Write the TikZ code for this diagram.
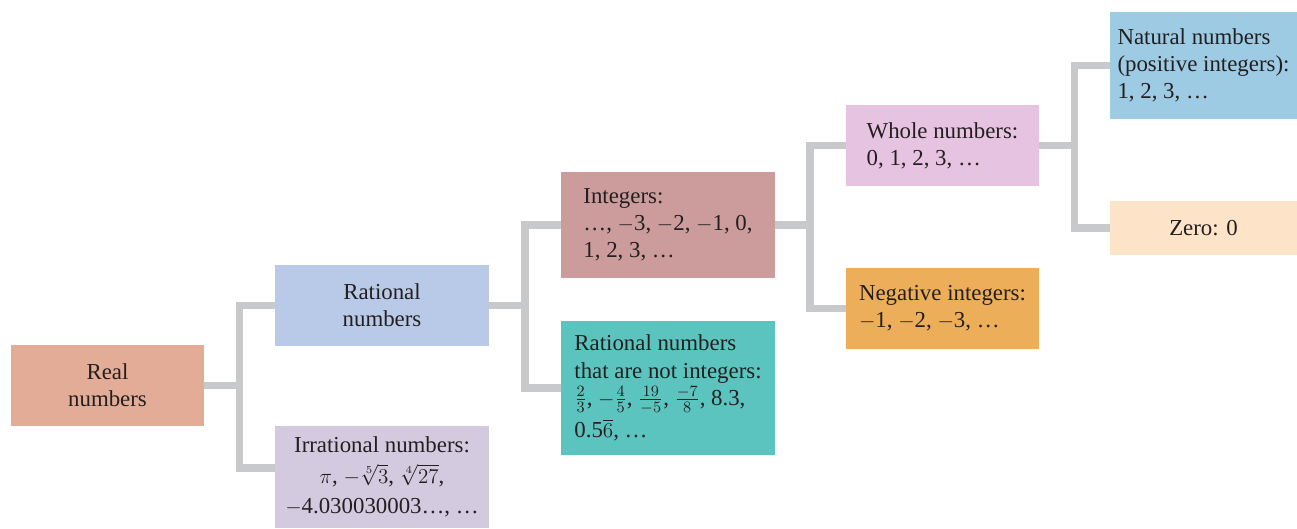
\documentclass[tikz,border=0pt]{standalone}
\usepackage{amsmath}
\usepackage{fontspec}
\setmainfont{Liberation Serif}
\usepackage{tikz}
\usetikzlibrary{calc}

\definecolor{inkdark}{HTML}{231F20}
\definecolor{linkgray}{HTML}{C8C9CA}
\definecolor{realfill}{HTML}{E3AC97}
\definecolor{ratfill}{HTML}{B9C9E8}
\definecolor{irrfill}{HTML}{D3CADF}
\definecolor{intfill}{HTML}{CC9C9C}
\definecolor{nonintfill}{HTML}{5BC4BF}
\definecolor{wholefill}{HTML}{E6C3E0}
\definecolor{negfill}{HTML}{EDAE5A}
\definecolor{natfill}{HTML}{9DCBE3}
\definecolor{zerofill}{HTML}{FDE3C8}
\newcommand{\mns}{$-$}

\begin{document}
\begin{tikzpicture}[line join=miter,
  box/.style={rectangle, inner sep=0pt, text=inkdark,
    font=\fontsize{13}{15.4}\selectfont},
  link/.style={draw=linkgray, line width=4.5pt}]
  \useasboundingbox (0,0) rectangle (25.94,10.56);
  % branch points
  \coordinate (T1) at (4.79,2.85);
  \coordinate (T2) at (10.50,4.45);
  \coordinate (T3) at (16.20,6.06);
  \coordinate (T4) at (21.49,7.65);
  % boxes
  \node[box,fill=realfill,minimum width=3.86cm,minimum height=1.62cm,align=center] (real) at (2.15,2.85) {Real\\numbers};
  \node[box,fill=ratfill,minimum width=4.28cm,minimum height=1.62cm,align=center] (rat) at (7.64,4.45) {Rational\\numbers};
  \node[box,fill=irrfill,minimum width=4.28cm,minimum height=2.04cm,align=center] (irr) at (7.64,1.02) {Irrational numbers:\\[2pt]$\pi$, $-\sqrt[5]{3}$, $\sqrt[4]{27}$,\\[2pt]\mns4.030030003…, …};
  \node[box,fill=intfill,minimum width=4.28cm,minimum height=2.12cm,align=left] (int) at (13.36,6.06) {Integers:\\…, \mns3, \mns2, \mns1, 0,\\1, 2, 3, …};
  \node[box,fill=nonintfill,minimum width=4.28cm,minimum height=2.68cm,align=left] (nonint) at (13.36,2.80) {Rational numbers\\that are not integers:\\$\frac{2}{3}$, $-\frac{4}{5}$, $\frac{19}{-5}$, $\frac{-7}{8}$, 8.3,\\[3pt]0.5$\overline{6}$, …};
  \node[box,fill=wholefill,minimum width=3.86cm,minimum height=1.62cm,align=left] (whole) at (18.85,7.65) {Whole numbers:\\0, 1, 2, 3, …};
  \node[box,fill=negfill,minimum width=3.86cm,minimum height=1.62cm,align=left] (neg) at (18.85,4.39) {Negative integers:\\\mns1, \mns2, \mns3, …};
  \node[box,fill=natfill,minimum width=3.74cm,minimum height=2.14cm,align=left] (nat) at (24.07,9.25) {Natural numbers\\(positive integers):\\1, 2, 3, …};
  \node[box,fill=zerofill,minimum width=3.74cm,minimum height=1.08cm,align=center] (zero) at (24.07,6.00) {Zero: 0};
  % connectors
  \draw[link] (real.east) -- (T1);
  \draw[link] (rat.west) -| (T1) |- ($(irr.west)+(0,0.18)$);
  \draw[link] (rat.east) -- (T2);
  \draw[link] (int.west) -| (T2) |- (nonint.west);
  \draw[link] (int.east) -- (T3);
  \draw[link] (whole.west) -| (T3) |- (neg.west);
  \draw[link] (whole.east) -- (T4);
  \draw[link] (nat.west) -| (T4) |- (zero.west);
\end{tikzpicture}
\end{document}
